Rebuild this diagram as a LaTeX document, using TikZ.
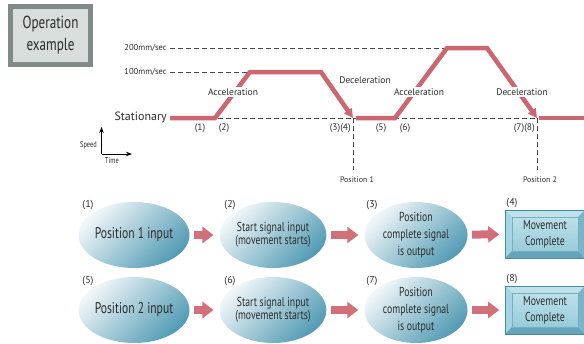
\documentclass[tikz,border=0pt]{standalone}
\usepackage{fontspec}
\setmainfont{PT Sans}
\newfontfamily\condfont[FakeStretch=0.75]{PT Sans}
\usetikzlibrary{arrows.meta,shapes.geometric}
\definecolor{redline}{RGB}{204,102,112}
\definecolor{fatred}{RGB}{210,112,122}
\definecolor{txt}{RGB}{45,45,45}
\definecolor{dashc}{RGB}{70,70,70}
\definecolor{ellL}{RGB}{242,247,249}
\definecolor{ellD}{RGB}{82,155,180}
\definecolor{opborder}{RGB}{128,138,136}
\definecolor{opfill}{RGB}{215,222,220}
\definecolor{bxline}{RGB}{70,140,160}
\definecolor{bxtop}{RGB}{195,228,236}
\definecolor{bxbot}{RGB}{145,200,216}
\definecolor{bvT}{RGB}{190,225,235}
\definecolor{bvL}{RGB}{165,212,226}
\definecolor{bvB}{RGB}{100,165,188}
\definecolor{bvR}{RGB}{120,180,202}
\tikzset{
  redl/.style={draw=redline, line width=4.5pt, line join=miter},
  redtip/.style={-{Triangle[length=9pt,width=9pt]}},
  dashl/.style={draw=dashc, line width=0.7pt, dash pattern=on 5pt off 3pt},
  lbl/.style={text=txt, inner sep=1pt, font=\fontsize{9.5}{11}\selectfont},
  small/.style={text=txt, inner sep=1pt, font=\fontsize{8}{9}\selectfont},
  wlbl/.style={lbl, fill=white, inner sep=1.5pt},
  ell/.style={ellipse, inner sep=0pt, minimum width=103pt, minimum height=66pt,
     top color=ellL, bottom color=ellD, shading angle=45, text=txt, align=center},
  fat/.style={draw=fatred, line width=8pt, shorten <=4.5pt, shorten >=6pt,
     -{Triangle[length=11pt,width=16pt]}},
  bx/.style={rectangle, minimum width=79pt, minimum height=47pt, inner sep=0pt,
     top color=bxtop, bottom color=bxbot, draw=bxline, line width=0.6pt, text=txt, align=center},
  num/.style={text=txt, inner sep=1pt, font=\fontsize{10}{11}\selectfont}
}
\newcommand\bevbox[3]{%
  \node[bx, font=\condfont\fontsize{13}{16.5}\selectfont] (#1) at (#2) {#3};
  \fill[bvT] (#1.north west) -- (#1.north east) -- ([shift={(-6.5,6.5)}]#1.north east) -- ([shift={(6.5,6.5)}]#1.north west) -- cycle;
  \fill[bvL] (#1.north west) -- (#1.south west) -- ([shift={(6.5,-6.5)}]#1.south west) -- ([shift={(6.5,6.5)}]#1.north west) -- cycle;
  \fill[bvB] (#1.south west) -- (#1.south east) -- ([shift={(-6.5,-6.5)}]#1.south east) -- ([shift={(6.5,-6.5)}]#1.south west) -- cycle;
  \fill[bvR] (#1.north east) -- (#1.south east) -- ([shift={(-6.5,-6.5)}]#1.south east) -- ([shift={(-6.5,6.5)}]#1.north east) -- cycle;
  \draw[bxline, line width=0.6pt] (#1.north west) rectangle (#1.south east);
  \draw[bxline!70, line width=0.4pt] ([shift={(6.5,6.5)}]#1.north west) rectangle ([shift={(-6.5,-6.5)}]#1.south east);
}
\begin{document}
\begin{tikzpicture}[x=1pt,y=-1pt]
\useasboundingbox (0,0) rectangle (584,343);
% operation example box
\node[draw=opborder, line width=5pt, fill=opfill, minimum width=80pt, minimum height=58pt,
  inner sep=0pt, align=center, text=txt, font=\condfont\fontsize{17.5}{22}\selectfont] (op) at (50.5,35) {Operation\\example};
% graph coordinates
\coordinate (s0) at (170,118);
\coordinate (a1) at (215,118);
\coordinate (p1) at (250,72);
\coordinate (p2) at (321,72);
\coordinate (q1) at (353,118);
\coordinate (q1b) at (356,118);
\coordinate (a2) at (395,118);
\coordinate (h1) at (447,48);
\coordinate (h2) at (487,48);
\coordinate (q2) at (537,118);
\coordinate (q2b) at (539,118);
\coordinate (e0) at (584,118);
\coordinate (v100) at (170,72);
\coordinate (v200) at (170,48);
\coordinate (pos1) at (353,170);
\coordinate (pos2) at (537,170);
% dashed guides
\draw[dashl] (s0) -- (q2);
\draw[dashl] (v100) -- (p1);
\draw[dashl] (v200) -- (h1);
\draw[dashl] (q1) -- (pos1);
\draw[dashl] (q2) -- (pos2);
% labels left
\node[lbl, anchor=east, font=\fontsize{8.5}{10}\selectfont] (l200) at (168,48) {200mm/sec};
\node[lbl, anchor=east, font=\fontsize{8.5}{10}\selectfont] (l100) at (168,72) {100mm/sec};
\node[lbl, anchor=east, font=\fontsize{12}{13}\selectfont] (lst) at (168,117) {Stationary};
% red profile
\draw[redl, redtip] (s0) -- (a1) -- (p1) -- (p2) -- (q1);
\draw[redl, redtip] (q1b) -- (a2) -- (h1) -- (h2) -- (q2);
\draw[redl] (q2b) -- (e0);
% phase labels
\node[wlbl] (acc1) at (233,92) {Acceleration};
\node[lbl] (dec1) at (365,80) {Deceleration};
\node[wlbl] (acc2) at (419,92) {Acceleration};
\node[wlbl] (dec2) at (522,92) {Deceleration};
% step labels
\node[lbl] (g1) at (200,128) {(1)};
\node[lbl] (g2) at (224,128) {(2)};
\node[lbl, anchor=east] (g34) at (352,128) {(3)(4)};
\node[lbl] (g5) at (381,128) {(5)};
\node[lbl] (g6) at (405,128) {(6)};
\node[lbl, anchor=east] (g78) at (536,128) {(7)(8)};
\node[small] (ps1) at (357,180) {Position 1};
\node[small] (ps2) at (540,180) {Position 2};
% speed/time axes
\coordinate (ax0) at (101.5,154);
\coordinate (axy) at (101.5,127);
\coordinate (axx) at (132,154);
\draw[line width=0.9pt, -{Stealth[length=6pt,width=4.5pt]}] (ax0) -- (axy);
\draw[line width=0.9pt, -{Stealth[length=6pt,width=4.5pt]}] (ax0) -- (axx);
\node[text=txt, inner sep=0pt, font=\condfont\fontsize{8.5}{9}\selectfont, anchor=east] (spd) at (97,145) {Speed};
\node[text=txt, inner sep=0pt, font=\condfont\fontsize{8.5}{9}\selectfont] (tim) at (112,161) {Time};
% row 1
\node[ell, font=\condfont\fontsize{15.5}{17}\selectfont] (e1) at (134,235) {Position 1 input};
\node[ell, font=\condfont\fontsize{13}{13.5}\selectfont] (e2) at (273,235) {Start signal input\\(movement starts)};
\node[ell, font=\condfont\fontsize{13}{17.3}\selectfont] (e3) at (416,235) {Position\\complete signal\\is output};
\bevbox{b4}{545,234}{Movement\\Complete}
\draw[fat] (e1) -- (e2);
\draw[fat] (e2) -- (e3);
\draw[fat] (e3) -- (b4);
\node[num] (n1) at (88,205) {(1)};
\node[num] (n2) at (230,205) {(2)};
\node[num] (n3) at (372,205) {(3)};
\node[num] (n4) at (512,203) {(4)};
% row 2
\node[ell, font=\condfont\fontsize{15.5}{17}\selectfont] (e5) at (134,310) {Position 2 input};
\node[ell, font=\condfont\fontsize{13}{13.5}\selectfont] (e6) at (273,310) {Start signal input\\(movement starts)};
\node[ell, font=\condfont\fontsize{13}{17.3}\selectfont] (e7) at (416,310) {Position\\complete signal\\is output};
\bevbox{b8}{545,310}{Movement\\Complete}
\draw[fat] (e5) -- (e6);
\draw[fat] (e6) -- (e7);
\draw[fat] (e7) -- (b8);
\node[num] (n5) at (88,281) {(5)};
\node[num] (n6) at (230,281) {(6)};
\node[num] (n7) at (372,281) {(7)};
\node[num] (n8) at (512,279) {(8)};
\end{tikzpicture}
\end{document}
